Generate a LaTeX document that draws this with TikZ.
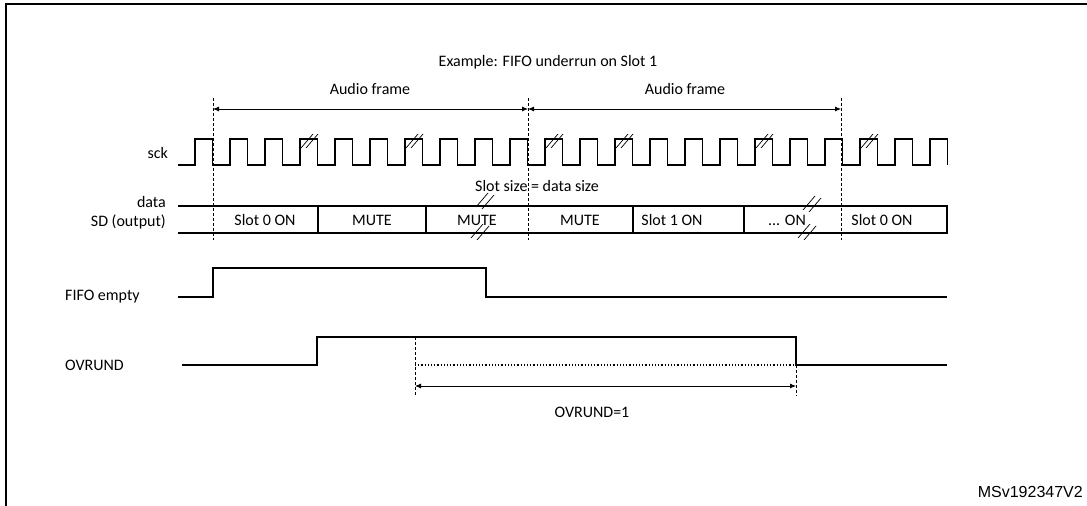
\documentclass[tikz,border=0pt]{standalone}
\usepackage{fontspec}
\setmainfont{Carlito}
\newfontfamily\arialf{Liberation Sans}
\usetikzlibrary{arrows.meta}
\begin{document}
\begin{tikzpicture}[x=1pt,y=-1pt,
  sig/.style={line width=1.5pt,line join=miter},
  lbl/.style={font=\fontsize{16}{18}\selectfont,inner sep=0pt},
  vdash/.style={densely dashed,line width=0.6pt},
  dim/.style={line width=0.8pt,{Latex[length=6pt,width=5pt]}-{Latex[length=6pt,width=5pt]}},
  brk/.style={line width=0.7pt}]
\useasboundingbox (0,0) rectangle (1087,506);
\draw[line width=1.2pt] (6,510) -- (6,4) -- (1090,4);
\node[lbl] (title) at (548,62) {Example: FIFO underrun on Slot 1};
% frame markers
\coordinate (f0t) at (213,98); \coordinate (f0b) at (213,240);
\coordinate (f1t) at (528,98); \coordinate (f1b) at (528,240);
\coordinate (f2t) at (841,98); \coordinate (f2b) at (841,240);
\draw[vdash] (f0t) -- (f0b); \draw[vdash] (f1t) -- (f1b); \draw[vdash] (f2t) -- (f2b);
\coordinate (a0) at (213,109); \coordinate (a1) at (528,109); \coordinate (a2) at (841,109);
\draw[dim] (a0) -- (a1); \draw[dim] (a1) -- (a2);
\node[lbl] (af1) at (370,89) {Audio frame};
\node[lbl] (af2) at (685,89) {Audio frame};
% sck
\node[lbl,anchor=east] (sck) at (168,153) {sck};
\draw[sig] (178,165) -- (195,165) foreach \k in {0,...,20}{ -- ++(0,-26) -- ++(17.5,0) -- ++(0,26) -- ++(17.5,0)} -- ++(0,-26) -- ++(17.5,0) -- ++(0,26);
\foreach \x in {300,405,545,615,755,860}{
  \draw[brk] (\x+1,148) -- (\x+13,134);
  \draw[brk] (\x+6,148) -- (\x+18,134);
}
\node[lbl,anchor=west] (ss) at (475,186) {Slot size = data size};
% data
\node[lbl,anchor=east] (data) at (166,202) {data};
\node[lbl,anchor=east] (sd) at (166,222) {SD (output)};
\draw[sig] (178,206) -- (947,206) -- (947,233) -- (178,233);
\foreach \x in {318,426,633,744}{\draw[sig] (\x,206) -- (\x,233);}
\node[lbl] (s1) at (265,220) {Slot 0 ON};
\node[lbl] (s2) at (372,220) {MUTE};
\node[lbl] (s3) at (477,220) {MUTE};
\node[lbl] (s4) at (580,220) {MUTE};
\node[lbl] (s5) at (672,220) {Slot 1 ON};
\node[lbl] (s6) at (787,220) {... ON};
\node[lbl] (s7) at (882,220) {Slot 0 ON};
\foreach \x/\y in {485/201,480/232,812/204,807/232}{
  \draw[brk] (\x-9,\y+6) -- (\x+3,\y-8);
  \draw[brk] (\x-3,\y+8) -- (\x+9,\y-6);
}
% FIFO empty
\node[lbl,anchor=west] (fe) at (65,297) {FIFO empty};
\draw[sig] (178,297) -- (213,297) -- (213,268) -- (486,268) -- (486,297) -- (947,297);
% OVRUND
\node[lbl,anchor=west] (ov) at (65,365) {OVRUND};
\draw[sig] (182,365) -- (317,365) -- (317,337) -- (796,337) -- (796,365) -- (947,365);
\coordinate (d0t) at (415,337); \coordinate (d0b) at (415,396);
\coordinate (d1t) at (796,365); \coordinate (d1b) at (796,396);
\draw[vdash] (d0t) -- (d0b); \draw[vdash] (d1t) -- (d1b);
\draw[dotted,line width=1.2pt] (415,365) -- (796,365);
\coordinate (o0) at (415,386); \coordinate (o1) at (796,386);
\draw[dim] (o0) -- (o1);
\node[lbl] (ov1) at (592,412) {OVRUND=1};
\node[font=\arialf\fontsize{16}{18}\selectfont,inner sep=0pt,anchor=east] (ms) at (1083,492) {MSv192347V2};
\end{tikzpicture}
\end{document}
